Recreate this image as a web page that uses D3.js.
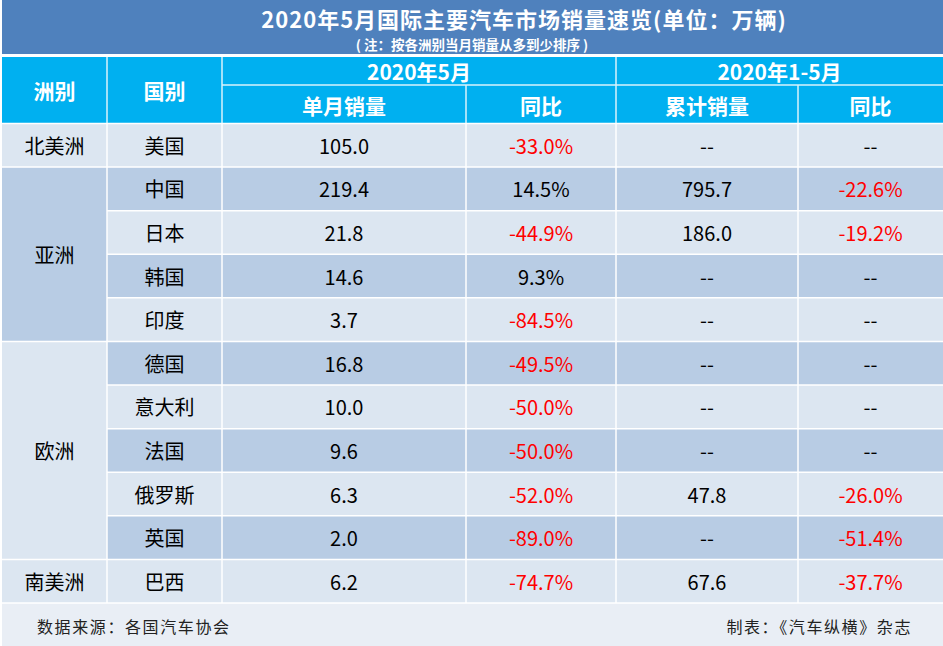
<!DOCTYPE html>
<html><head><meta charset="utf-8">
<script src="https://cdn.jsdelivr.net/npm/d3@7"></script>
<style>
html,body{margin:0;padding:0;background:#fff;}
svg{display:block;font-family:"Noto Sans CJK SC","Noto Sans",sans-serif;}
</style></head>
<body>
<svg id="chart" width="943" height="646"></svg>
<script>
// ---- data ----
const title = "2020年5月国际主要汽车市场销量速览(单位：万辆)";
const subtitle = "( 注：按各洲别当月销量从多到少排序 )";
const groupHeaders = ["2020年5月", "2020年1-5月"];
const columnHeaders = ["洲别", "国别", "单月销量", "同比", "累计销量", "同比"];
const continents = ["北美洲", "亚洲", "欧洲", "南美洲"];
const continentSpans = [1, 4, 5, 1];
const countries = ["美国", "中国", "日本", "韩国", "印度", "德国", "意大利", "法国", "俄罗斯", "英国", "巴西"];
const monthSales = [105.0, 219.4, 21.8, 14.6, 3.7, 16.8, 10.0, 9.6, 6.3, 2.0, 6.2];
const monthYoY = [-33.0, 14.5, -44.9, 9.3, -84.5, -49.5, -50.0, -50.0, -52.0, -89.0, -74.7];
const ytdSales = [null, 795.7, 186.0, null, null, null, null, null, 47.8, null, 67.6];
const ytdYoY = [null, -22.6, -19.2, null, null, null, null, null, -26.0, -51.4, -37.7];
const sourceNote = "数据来源：各国汽车协会";
const makerNote = "制表：《汽车纵横》杂志";

// ---- layout ----
const W = 943, H = 646;
const colEdges = [2, 107, 222, 466, 616, 798, 943];
const C = {
  titleBg: "#4F81BD", header: "#00B0F0", light: "#DCE6F1", dark: "#B8CCE4",
  footer: "#E9EEF5", red: "#FF0000", text: "#000"
};
const svg = d3.select("#chart");

const x = d3.scaleOrdinal().domain(d3.range(7)).range(colEdges);
const y = d3.scaleBand().domain(d3.range(countries.length)).range([123.5, 603]).paddingInner(0);
const locale = d3.formatLocale({decimal: ".", thousands: ",", grouping: [3], currency: ["", ""], minus: "-"});
const f1 = locale.format(".1f");

// title band
svg.append("rect").attr("x", 2).attr("y", 0).attr("width", W - 2).attr("height", 54).attr("fill", C.titleBg);
svg.append("text").attr("x", 524).attr("y", 17.5).attr("text-anchor", "middle").attr("dominant-baseline", "central")
  .attr("fill", "#fff").attr("font-weight", "bold").attr("font-size", 22).attr("letter-spacing", 1).text(title);
svg.append("text").attr("x", 472).attr("y", 44).attr("text-anchor", "middle").attr("dominant-baseline", "central")
  .attr("fill", "#fff").attr("font-weight", "bold").attr("font-size", 13.5).text(subtitle);

// header band
const hTop = 57, hMid = 85, hBot = 123;
svg.append("rect").attr("x", 2).attr("y", hTop).attr("width", W - 2).attr("height", hBot - hTop).attr("fill", C.header);
const hdr = svg.append("g").attr("fill", "#fff").attr("font-weight", "bold").attr("font-size", 21)
  .attr("text-anchor", "middle").attr("dominant-baseline", "central");
[[2, 4], [4, 6]].forEach((span, i) => {
  hdr.append("text").attr("x", (x(span[0]) + x(span[1])) / 2).attr("y", (hTop + hMid) / 2).text(groupHeaders[i]);
});
columnHeaders.forEach((h, i) => {
  const cy = i < 2 ? (hTop + hBot) / 2 : (hMid + hBot) / 2 + 1;
  hdr.append("text").attr("x", (x(i) + x(i + 1)) / 2).attr("y", cy).text(h);
});
const hl = svg.append("g").attr("stroke", "#fff").attr("stroke-width", 1.5).attr("opacity", 0.85);
hl.append("line").attr("x1", x(2)).attr("x2", W).attr("y1", hMid).attr("y2", hMid);
[1, 2, 4].forEach(i => hl.append("line").attr("x1", x(i)).attr("x2", x(i)).attr("y1", hTop).attr("y2", hBot));
[3, 5].forEach(i => hl.append("line").attr("x1", x(i)).attr("x2", x(i)).attr("y1", hMid).attr("y2", hBot));

// rows
const fmtNum = v => v == null ? "--" : f1(v);
const fmtPct = v => v == null ? "--" : f1(v) + "%";
const rows = countries.map((c, i) => ({
  i, cells: [c, fmtNum(monthSales[i]), fmtPct(monthYoY[i]), fmtNum(ytdSales[i]), fmtPct(ytdYoY[i])],
  neg: [false, false, monthYoY[i] < 0, false, ytdYoY[i] != null && ytdYoY[i] < 0]
}));
const rowG = svg.append("g").selectAll("g").data(rows).join("g");
rowG.append("rect").attr("x", x(1)).attr("y", d => y(d.i)).attr("width", W - x(1)).attr("height", y.bandwidth())
  .attr("fill", d => d.i % 2 === 1 ? C.dark : C.light);
rowG.each(function (d) {
  const g = d3.select(this);
  d.cells.forEach((t, k) => {
    g.append("text").attr("x", (x(k + 1) + x(k + 2)) / 2).attr("y", y(d.i) + y.bandwidth() / 2)
      .attr("text-anchor", "middle").attr("dominant-baseline", "central")
      .attr("font-size", 20).attr("fill", d.neg[k] ? C.red : C.text).text(t);
  });
});

// continents (merged cells)
let start = 0;
continents.forEach((c, k) => {
  const s = start, e = start + continentSpans[k];
  const y0 = y(s), y1 = y(e - 1) + y.bandwidth();
  svg.append("rect").attr("x", x(0)).attr("y", y0).attr("width", x(1) - x(0)).attr("height", y1 - y0)
    .attr("fill", k === 1 ? C.dark : C.light);
  svg.append("text").attr("x", (x(0) + x(1)) / 2).attr("y", (y0 + y1) / 2).attr("text-anchor", "middle")
    .attr("dominant-baseline", "central").attr("font-size", 20).attr("fill", C.text).text(c);
  start = e;
});

// grid lines (white)
const gl = svg.append("g").attr("stroke", "#fff").attr("stroke-width", 1.5);
d3.range(countries.length + 1).forEach(i => {
  const yy = i < countries.length ? y(i) : y(i - 1) + y.bandwidth();
  gl.append("line").attr("x1", x(1)).attr("x2", W).attr("y1", yy).attr("y2", yy);
});
let acc = 0;
[0].concat(continentSpans).forEach(sp => {
  acc += sp;
  const yy = acc < countries.length ? y(acc) : y(countries.length - 1) + y.bandwidth();
  gl.append("line").attr("x1", x(0)).attr("x2", x(1)).attr("y1", yy).attr("y2", yy);
});
d3.range(1, 6).forEach(i => gl.append("line").attr("x1", x(i)).attr("x2", x(i)).attr("y1", 123.5).attr("y2", 603));

// footer
const fTop = y(countries.length - 1) + y.bandwidth() + 0.75;
svg.append("rect").attr("x", 2).attr("y", fTop).attr("width", W - 2).attr("height", H - fTop).attr("fill", C.footer);
svg.append("text").attr("x", 37).attr("y", 626).attr("dominant-baseline", "central").attr("font-size", 16)
  .attr("letter-spacing", 1.6).attr("fill", "#222").text(sourceNote);
svg.append("text").attr("x", 912).attr("y", 626).attr("text-anchor", "end").attr("dominant-baseline", "central")
  .attr("font-size", 16).attr("letter-spacing", 1.6).attr("fill", "#222").text(makerNote);
</script>
</body></html>
